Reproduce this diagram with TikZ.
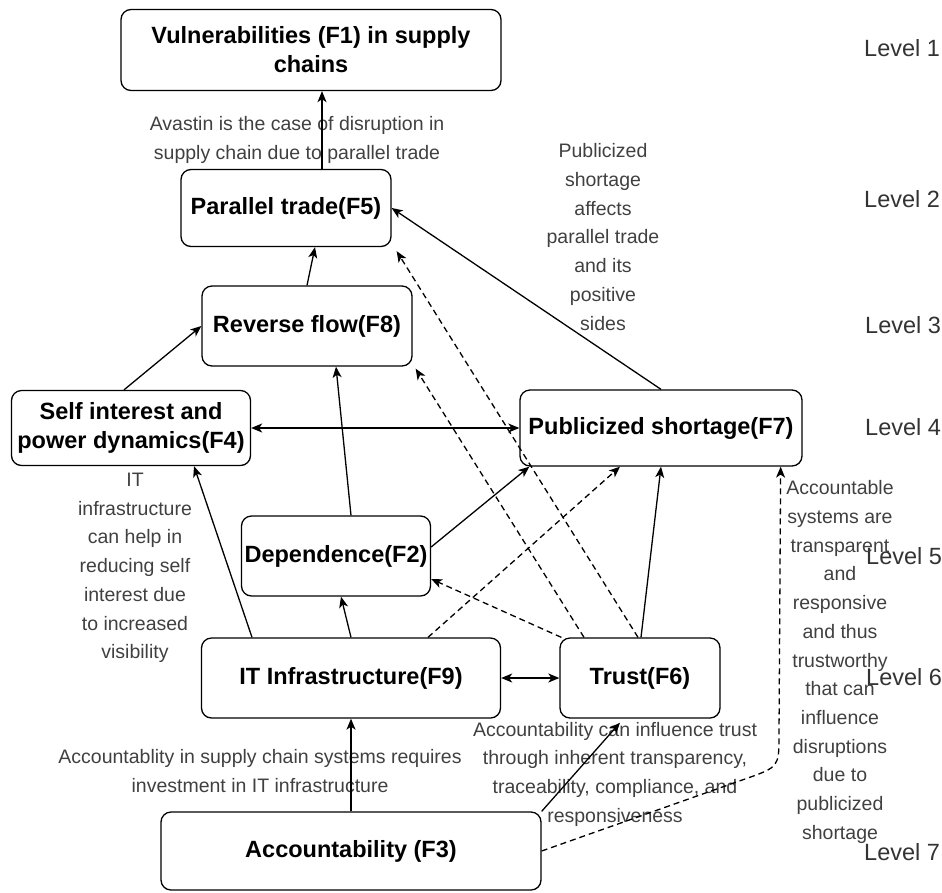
\documentclass[tikz,border=0pt]{standalone}
\usepackage{fontspec}
\setmainfont{Liberation Sans}
\usetikzlibrary{arrows.meta}
\tikzset{
  box/.style={draw, rounded corners=10pt, line width=1.3pt, inner sep=0pt, align=center,
    font=\fontsize{23.5}{29}\selectfont\bfseries},
  note/.style={align=center, text=black!75, inner sep=0pt, font=\fontsize{19.5}{28.7}\selectfont},
  lvl/.style={anchor=west, text=black!80, inner sep=0pt, font=\fontsize{23.5}{28}\selectfont},
  tip/.style={Stealth[length=11pt,width=9pt,inset=3pt]},
  arr/.style={line width=1.3pt, -{Stealth[length=11pt,width=9pt,inset=3pt]}},
  darr/.style={line width=1.3pt, {Stealth[length=11pt,width=9pt,inset=3pt]}-{Stealth[length=11pt,width=9pt,inset=3pt]}},
  dline/.style={arr, dash pattern=on 6pt off 4pt}
}
\begin{document}
\begin{tikzpicture}[x=1pt,y=-1pt]
\useasboundingbox (0,0) rectangle (942,892);

\node[box, minimum width=380pt, minimum height=81pt] (f1) at (311,50) {Vulnerabilities (F1) in supply\\chains};
\node[box, minimum width=210pt, minimum height=77pt] (f5) at (286,208) {Parallel trade(F5)};
\node[box, minimum width=210pt, minimum height=80pt] (f8) at (307,326) {Reverse flow(F8)};
\node[box, minimum width=239pt, minimum height=75pt] (f4) at (131,428) {Self interest and\\power dynamics(F4)};
\node[box, minimum width=282pt, minimum height=76pt] (f7) at (661,428) {Publicized shortage(F7)};
\node[box, minimum width=189pt, minimum height=80pt] (f2) at (336,556) {Dependence(F2)};
\node[box, minimum width=299pt, minimum height=80pt] (f9) at (351,678) {IT Infrastructure(F9)};
\node[box, minimum width=160pt, minimum height=80pt] (f6) at (640,678) {Trust(F6)};
\node[box, minimum width=380pt, minimum height=78pt] (f3) at (351,851) {Accountability (F3)};

\node[lvl] (lv1) at (864,48) {Level 1};
\node[lvl] (lv2) at (864,199) {Level 2};
\node[lvl] (lv3) at (865,325) {Level 3};
\node[lvl] (lv4) at (865,427) {Level 4};
\node[lvl] (lv5) at (866,556) {Level 5};
\node[lvl] (lv6) at (866,677) {Level 6};
\node[lvl] (lv7) at (864,852) {Level 7};

\node[note] (avastin) at (297,140) {Avastin is the case of disruption in\\supply chain due to parallel trade};
\node[note] (pubnote) at (603,237) {Publicized\\shortage\\affects\\parallel trade\\and its\\positive\\sides};
\node[note] (itnote) at (135,568) {IT\\infrastructure\\can help in\\reducing self\\interest due\\to increased\\visibility};
\node[note] (invnote) at (260,771) {Accountablity in supply chain systems requires\\investment in IT infrastructure};
\node[note] (trustnote) at (615,774) {Accountability can influence trust\\through inherent transparency,\\traceability, compliance, and\\responsiveness};
\node[note] (accnote) at (840,662) {Accountable\\systems are\\transparent\\and\\responsive\\and thus\\trustworthy\\that can\\influence\\disruptions\\due to\\publicized\\shortage};

\draw[arr] ([xshift=11pt]f1.south |- f5.north) -- ([xshift=11pt]f1.south);
\draw[arr] (f8.north) -- ([xshift=29pt]f5.south);
\draw[arr] ([xshift=-7pt]f4.north) -- (f8.west);
\draw[darr] (f4.east) -- (f7.west);
\draw[arr] (f7.north) -- (f5.east);
\draw[arr] ([xshift=15pt]f2.north) -- ([xshift=29pt]f8.south);
\draw[arr] ([yshift=9pt]f2.east) -- ([xshift=10pt]f7.south west);
\draw[arr] (f9.north) -- ([xshift=5pt]f2.south);
\draw[arr] ([xshift=-99pt]f9.north) -- ([xshift=63pt]f4.south);
\draw[dline] ([xshift=77pt]f9.north) -- ([xshift=-41pt]f7.south);
\draw[darr] (f9.east) -- (f6.west);
\draw[dline] ([xshift=2pt]f6.north west) -- ([yshift=-23pt]f2.east);
\draw[dline] ([xshift=-56pt]f6.north) -- ([shift={(3pt,-2pt)}]f8.south east);
\draw[dline] ([xshift=-2pt]f6.north) -- ([shift={(5pt,-4pt)}]f5.south east);
\draw[arr] ([xshift=1pt]f6.north) -- (f7.south);
\draw[arr] (f3.north) -- (f9.south);
\draw[arr] (f3.north east) -- ([xshift=-20pt,yshift=-4pt]f6.south);
\draw[dline] (f3.east) -- (745,779) .. controls (779,767) .. (779,735) -- ([xshift=-22pt]f7.south east);
\end{tikzpicture}
\end{document}
